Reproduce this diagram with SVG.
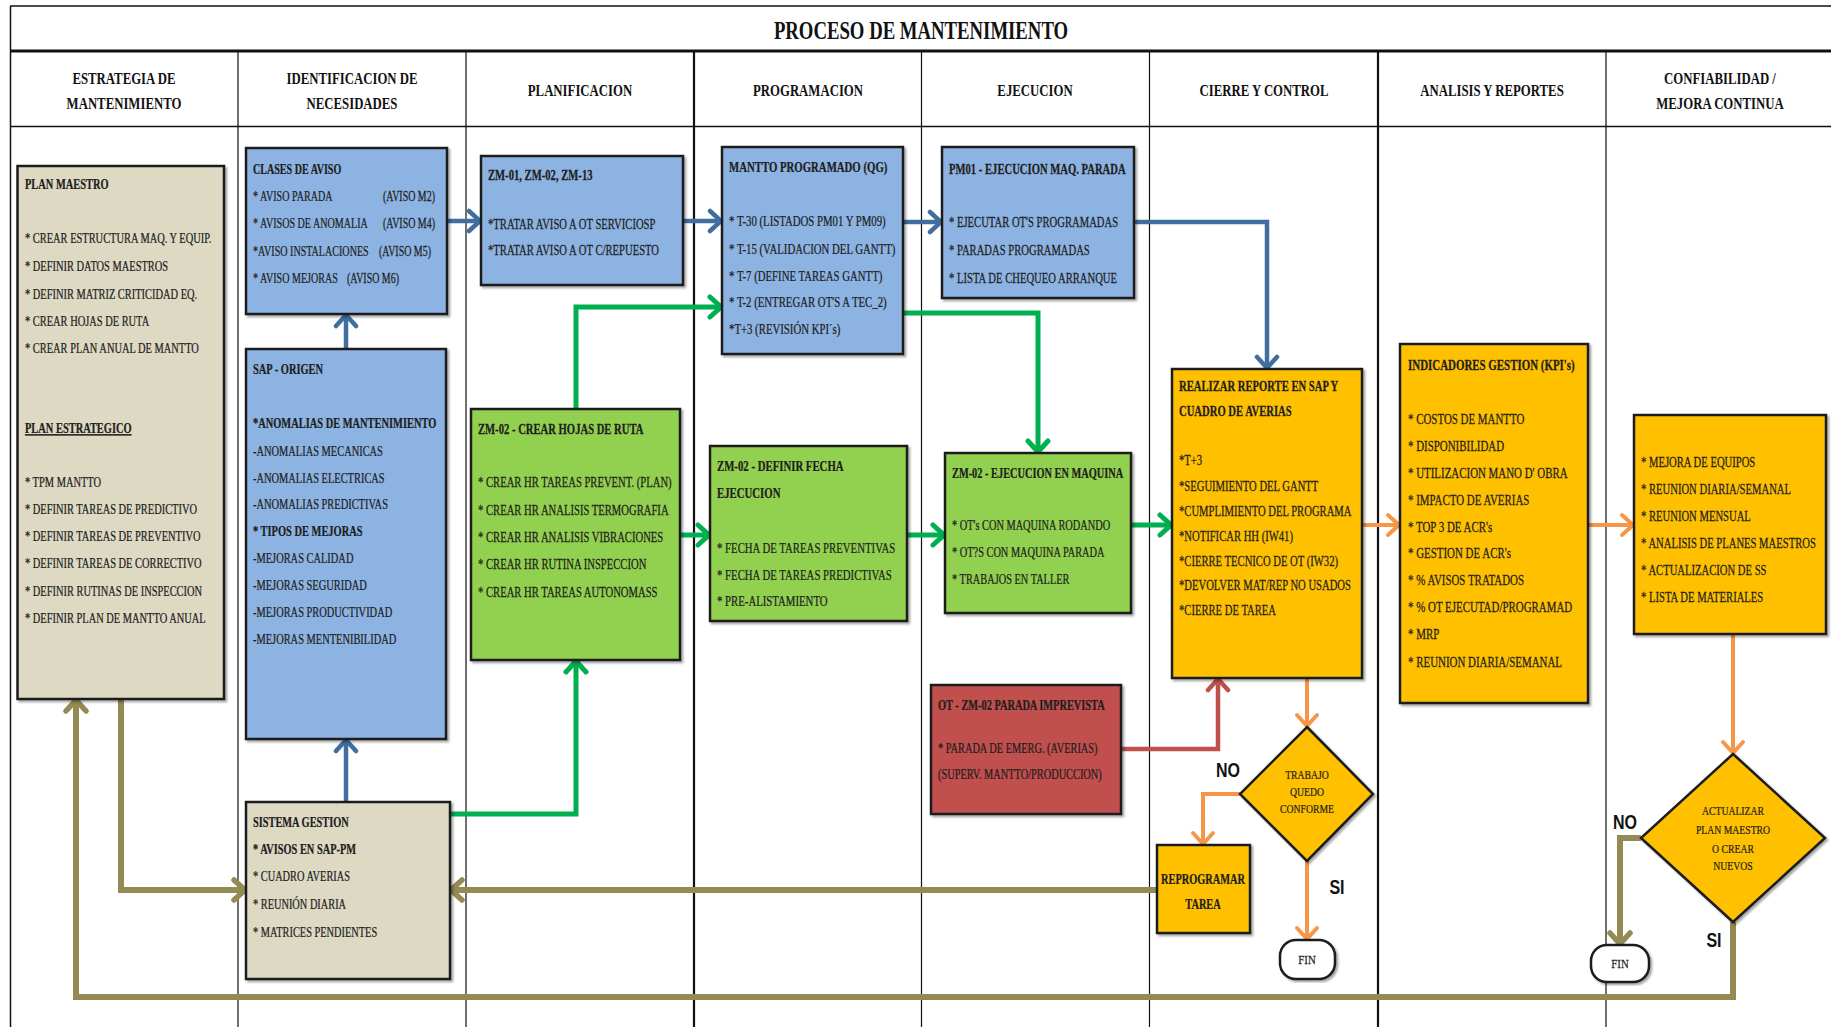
<svg xmlns="http://www.w3.org/2000/svg" width="1831" height="1027" viewBox="0 0 1831 1027">
<style>
.bg{fill:#fff}
.grid{stroke:#111;fill:none}
.box{stroke:#1c1c1c;stroke-width:2.5;filter:url(#sh)}
.tan{fill:#DDD9C3}
.blue{fill:#8DB3E2}
.green{fill:#92D050}
.orange{fill:#FFC000}
.red{fill:#C0504D}
text{font-family:"Liberation Serif","DejaVu Serif",serif;font-size:14px;fill:#1e1e1e;stroke:#1e1e1e;stroke-width:0.25}
.b{font-weight:bold}
.hd{font-size:16px;font-weight:bold;text-anchor:middle;fill:#111;stroke:none}
.ttl{font-size:25px;font-weight:bold;text-anchor:middle;fill:#111;stroke:none}
.dt{font-size:13.5px;text-anchor:middle}
.lbl{font-family:"Liberation Sans","DejaVu Sans",sans-serif;font-size:20px;font-weight:bold;text-anchor:middle;fill:#111;stroke:none}
.c{fill:none;stroke-linejoin:miter}
.cb{stroke:#3F6E9F;stroke-width:4.5}
.cg{stroke:#00B050;stroke-width:5}
.co{stroke:#F79646;stroke-width:4}
.cv{stroke:#948A54;stroke-width:6}
.cr{stroke:#C0504D;stroke-width:4.5}
</style>
<defs>
<filter id="sh" x="-5%" y="-5%" width="115%" height="115%">
<feDropShadow dx="2" dy="2" stdDeviation="1.2" flood-color="#000" flood-opacity="0.35"/>
</filter>
<marker id="ab" viewBox="0 0 26 26" refX="24" refY="13" markerWidth="26" markerHeight="26" markerUnits="userSpaceOnUse" orient="auto"><path d="M12,3 L23,13 L12,23" fill="none" stroke="#3F6E9F" stroke-width="4.5" stroke-linecap="round"/></marker>
<marker id="ag" viewBox="0 0 26 26" refX="24" refY="13" markerWidth="26" markerHeight="26" markerUnits="userSpaceOnUse" orient="auto"><path d="M12,3 L23,13 L12,23" fill="none" stroke="#00B050" stroke-width="5" stroke-linecap="round"/></marker>
<marker id="ao" viewBox="0 0 26 26" refX="24" refY="13" markerWidth="26" markerHeight="26" markerUnits="userSpaceOnUse" orient="auto"><path d="M12,3 L23,13 L12,23" fill="none" stroke="#F79646" stroke-width="4" stroke-linecap="round"/></marker>
<marker id="av" viewBox="0 0 26 26" refX="24" refY="13" markerWidth="26" markerHeight="26" markerUnits="userSpaceOnUse" orient="auto"><path d="M12,3 L23,13 L12,23" fill="none" stroke="#948A54" stroke-width="5.5" stroke-linecap="round"/></marker>
<marker id="ar" viewBox="0 0 26 26" refX="24" refY="13" markerWidth="26" markerHeight="26" markerUnits="userSpaceOnUse" orient="auto"><path d="M12,3 L23,13 L12,23" fill="none" stroke="#C0504D" stroke-width="4.5" stroke-linecap="round"/></marker>
</defs>
<rect class="bg" x="0" y="0" width="1831" height="1027"/>

<g id="grid">
<path class="grid" stroke-width="1.5" d="M10,6 H1831"/>
<path class="grid" stroke-width="1.5" d="M10.5,6 V1027"/>
<path class="grid" stroke-width="3" d="M10,51 H1831"/>
<path class="grid" stroke-width="1.3" d="M10,126.5 H1831"/>
<path class="grid" stroke-width="1.2" d="M238,51 V1027 M466,51 V1027 M921.5,51 V1027 M1149.5,51 V1027 M1606,51 V1027"/>
<path class="grid" stroke-width="2.2" d="M694,51 V1027 M1378,51 V1027"/>
<text class="ttl" transform="translate(921,39) scale(0.75,1)">PROCESO DE MANTENIMIENTO</text>
<g transform="translate(124,0) scale(0.8,1)"><text class="hd" y="84">ESTRATEGIA DE</text><text class="hd" y="109">MANTENIMIENTO</text></g>
<g transform="translate(352,0) scale(0.8,1)"><text class="hd" y="84">IDENTIFICACION DE</text><text class="hd" y="109">NECESIDADES</text></g>
<g transform="translate(580,0) scale(0.8,1)"><text class="hd" y="96">PLANIFICACION</text></g>
<g transform="translate(808,0) scale(0.8,1)"><text class="hd" y="96">PROGRAMACION</text></g>
<g transform="translate(1035,0) scale(0.8,1)"><text class="hd" y="96">EJECUCION</text></g>
<g transform="translate(1264,0) scale(0.8,1)"><text class="hd" y="96">CIERRE Y CONTROL</text></g>
<g transform="translate(1492,0) scale(0.8,1)"><text class="hd" y="96">ANALISIS Y REPORTES</text></g>
<g transform="translate(1720,0) scale(0.8,1)"><text class="hd" y="84">CONFIABILIDAD /</text><text class="hd" y="109">MEJORA CONTINUA</text></g>
</g>

<g id="connectors">
<path class="c cb" d="M447,221 H481" marker-end="url(#ab)"/>
<path class="c cb" d="M683,221 H722" marker-end="url(#ab)"/>
<path class="c cb" d="M903,222 H942" marker-end="url(#ab)"/>
<path class="c cb" d="M1134,222 H1267 V369" marker-end="url(#ab)"/>
<path class="c cb" d="M346,349 V314" marker-end="url(#ab)"/>
<path class="c cb" d="M346,802 V739" marker-end="url(#ab)"/>
<path class="c cg" d="M576,409 V307 H722" marker-end="url(#ag)"/>
<path class="c cg" d="M903,313 H1038 V453" marker-end="url(#ag)"/>
<path class="c cg" d="M680,535 H710" marker-end="url(#ag)"/>
<path class="c cg" d="M907,535 H945" marker-end="url(#ag)"/>
<path class="c cg" d="M1131,525 H1172" marker-end="url(#ag)"/>
<path class="c cg" d="M450,814 H576 V660" marker-end="url(#ag)"/>
<path class="c cr" d="M1121,749 H1218 V678" marker-end="url(#ar)"/>
<path class="c co" d="M1362,525 H1400" marker-end="url(#ao)"/>
<path class="c co" d="M1588,525 H1634" marker-end="url(#ao)"/>
<path class="c co" d="M1307,678 V727" marker-end="url(#ao)"/>
<path class="c co" d="M1240,794 H1203 V845" marker-end="url(#ao)"/>
<path class="c co" d="M1307,861 V940" marker-end="url(#ao)"/>
<path class="c co" d="M1733,634 V754" marker-end="url(#ao)"/>
<path class="c cv" d="M1641,838 H1620 V945" marker-end="url(#av)"/>
<path class="c cv" d="M1733,922 V997 H76 V699" marker-end="url(#av)"/>
<path class="c cv" d="M121,699 V890 H246" marker-end="url(#av)"/>
<path class="c cv" d="M1157,890 H450" marker-end="url(#av)"/>
</g>

<g id="plan-maestro">
<rect class="box tan" x="17.5" y="166" width="206.5" height="533"/>
<g transform="translate(25,0) scale(0.745,1)">
<text class="b" y="189">PLAN MAESTRO</text>
<text y="243">* CREAR ESTRUCTURA MAQ. Y EQUIP.</text>
<text y="271">* DEFINIR DATOS MAESTROS</text>
<text y="299">* DEFINIR  MATRIZ  CRITICIDAD EQ.</text>
<text y="326">* CREAR HOJAS DE RUTA</text>
<text y="353">* CREAR PLAN ANUAL DE MANTTO</text>
<text class="b" y="433" text-decoration="underline">PLAN ESTRATEGICO</text>
<text y="487">* TPM  MANTTO</text>
<text y="514">* DEFINIR TAREAS DE PREDICTIVO</text>
<text y="541">* DEFINIR TAREAS DE PREVENTIVO</text>
<text y="568">* DEFINIR TAREAS DE CORRECTIVO</text>
<text y="596">* DEFINIR RUTINAS DE INSPECCION</text>
<text y="623">* DEFINIR PLAN DE  MANTTO ANUAL</text>
</g>
</g>

<g id="clases-aviso">
<rect class="box blue" x="246" y="148" width="201" height="166"/>
<g transform="translate(253,0) scale(0.72,1)">
<text class="b" y="174">CLASES DE AVISO</text>
<text y="201">* AVISO PARADA</text>
<text y="228">* AVISOS DE  ANOMALIA</text>
<text y="256">*AVISO INSTALACIONES</text>
<text y="283">* AVISO MEJORAS</text>
</g>
<g transform="translate(383,0) scale(0.71,1)"><text y="201">(AVISO M2)</text><text y="228">(AVISO M4)</text></g>
<g transform="translate(379,0) scale(0.71,1)"><text y="256">(AVISO M5)</text></g>
<g transform="translate(347,0) scale(0.71,1)"><text y="283">(AVISO M6)</text></g>
</g>

<g id="sap-origen">
<rect class="box blue" x="246" y="349" width="200" height="390"/>
<g transform="translate(253,0) scale(0.745,1)">
<text class="b" y="374">SAP - ORIGEN</text>
<text class="b" y="428">*ANOMALIAS DE MANTENIMIENTO</text>
<text y="456">-ANOMALIAS MECANICAS</text>
<text y="483">-ANOMALIAS ELECTRICAS</text>
<text y="509">-ANOMALIAS PREDICTIVAS</text>
<text class="b" y="536">* TIPOS DE MEJORAS</text>
<text y="563">-MEJORAS CALIDAD</text>
<text y="590">-MEJORAS SEGURIDAD</text>
<text y="617">-MEJORAS PRODUCTIVIDAD</text>
<text y="644">-MEJORAS MENTENIBILIDAD</text>
</g>
</g>

<g id="sistema-gestion">
<rect class="box tan" x="246" y="802" width="204" height="177"/>
<g transform="translate(253,0) scale(0.74,1)">
<text class="b" y="827">SISTEMA  GESTION</text>
<text class="b" y="854">* AVISOS EN SAP-PM</text>
<text y="881">* CUADRO AVERIAS</text>
<text y="909">* REUNIÓN DIARIA</text>
<text y="937">* MATRICES PENDIENTES</text>
</g>
</g>

<g id="zm01">
<rect class="box blue" x="481" y="156" width="202" height="129"/>
<g transform="translate(488,0) scale(0.76,1)">
<text class="b" y="180">ZM-01, ZM-02, ZM-13</text>
<text y="229">*TRATAR AVISO A OT SERVICIOSP</text>
<text y="255">*TRATAR AVISO A OT C/REPUESTO</text>
</g>
</g>

<g id="crear-hojas">
<rect class="box green" x="471" y="409" width="209" height="251"/>
<g transform="translate(478,0) scale(0.76,1)">
<text class="b" y="434">ZM-02 - CREAR HOJAS DE RUTA</text>
<text y="487">* CREAR HR TAREAS PREVENT. (PLAN)</text>
<text y="515">* CREAR HR ANALISIS TERMOGRAFIA</text>
<text y="542">* CREAR HR ANALISIS  VIBRACIONES</text>
<text y="569">* CREAR HR RUTINA  INSPECCION</text>
<text y="597">* CREAR HR TAREAS AUTONOMASS</text>
</g>
</g>

<g id="mantto-programado">
<rect class="box blue" x="722" y="147" width="181" height="207"/>
<g transform="translate(729,0) scale(0.77,1)">
<text class="b" y="172">MANTTO PROGRAMADO (QG)</text>
<text y="226">* T-30 (LISTADOS PM01 Y PM09)</text>
<text y="254">* T-15 (VALIDACION DEL GANTT)</text>
<text y="281">* T-7  (DEFINE TAREAS GANTT)</text>
<text y="307">* T-2  (ENTREGAR OT'S A TEC_2)</text>
<text y="334">*T+3 (REVISIÓN KPI´s)</text>
</g>
</g>

<g id="definir-fecha">
<rect class="box green" x="710" y="446" width="197" height="175"/>
<g transform="translate(717,0) scale(0.77,1)">
<text class="b" y="471">ZM-02 - DEFINIR FECHA</text>
<text class="b" y="498">EJECUCION</text>
<text y="553">* FECHA DE TAREAS PREVENTIVAS</text>
<text y="580">* FECHA DE TAREAS PREDICTIVAS</text>
<text y="606">* PRE-ALISTAMIENTO</text>
</g>
</g>

<g id="pm01">
<rect class="box blue" x="942" y="147" width="192" height="151"/>
<g transform="translate(949,0) scale(0.76,1)">
<text class="b" y="174">PM01 - EJECUCION MAQ. PARADA</text>
<text y="227">* EJECUTAR OT'S PROGRAMADAS</text>
<text y="255">* PARADAS PROGRAMADAS</text>
<text y="283">* LISTA DE CHEQUEO  ARRANQUE</text>
</g>
</g>

<g id="ejecucion-maquina">
<rect class="box green" x="945" y="453" width="186" height="160"/>
<g transform="translate(952,0) scale(0.74,1)">
<text class="b" y="478">ZM-02 - EJECUCION EN  MAQUINA</text>
<text y="530">* OT's CON MAQUINA RODANDO</text>
<text y="557">* OT?S CON MAQUINA  PARADA</text>
<text y="584">* TRABAJOS EN TALLER</text>
</g>
</g>

<g id="parada-imprevista">
<rect class="box red" x="931" y="685" width="190" height="129"/>
<g transform="translate(938,0) scale(0.74,1)">
<text class="b" y="710">OT - ZM-02  PARADA IMPREVISTA</text>
<text y="753">* PARADA DE EMERG. (AVERIAS)</text>
<text y="779">(SUPERV. MANTTO/PRODUCCION)</text>
</g>
</g>

<g id="realizar-reporte">
<rect class="box orange" x="1172" y="369" width="190" height="309"/>
<g transform="translate(1179,0) scale(0.76,1)">
<text class="b" y="391">REALIZAR REPORTE EN SAP Y</text>
<text class="b" y="416">CUADRO DE AVERIAS</text>
<text y="465">*T+3</text>
<text y="491">*SEGUIMIENTO DEL GANTT</text>
<text y="516">*CUMPLIMIENTO DEL PROGRAMA</text>
<text y="541">*NOTIFICAR HH (IW41)</text>
<text y="566">*CIERRE TECNICO DE OT  (IW32)</text>
<text y="590">*DEVOLVER MAT/REP NO USADOS</text>
<text y="615">*CIERRE DE TAREA</text>
</g>
</g>

<g id="trabajo-conforme">
<polygon class="box orange" points="1307,727 1373,794 1307,861 1240,794"/>
<g transform="translate(1307,0) scale(0.72,1)">
<text class="dt" y="779">TRABAJO</text>
<text class="dt" y="796">QUEDO</text>
<text class="dt" y="813">CONFORME</text>
</g>
</g>

<g id="reprogramar">
<rect class="box orange" x="1157" y="845" width="93" height="88"/>
<g transform="translate(1203,0) scale(0.74,1)">
<text class="b" text-anchor="middle" y="884">REPROGRAMAR</text>
<text class="b" text-anchor="middle" y="909">TAREA</text>
</g>
</g>

<g id="fin1">
<rect x="1280" y="940" width="55" height="39" rx="16" ry="16" fill="#fff" stroke="#1c1c1c" stroke-width="2.5" filter="url(#sh)"/>
<text class="dt" transform="translate(1307,964) scale(0.8,1)">FIN</text>
</g>

<g id="kpis">
<rect class="box orange" x="1400" y="344" width="188" height="359"/>
<g transform="translate(1408,0) scale(0.78,1)">
<text class="b" y="370">INDICADORES GESTION (KPI's)</text>
<text y="424">* COSTOS DE MANTTO</text>
<text y="451">* DISPONIBILIDAD</text>
<text y="478">* UTILIZACION MANO D' OBRA</text>
<text y="505">* IMPACTO DE AVERIAS</text>
<text y="532">* TOP 3 DE ACR's</text>
<text y="558">* GESTION DE ACR's</text>
<text y="585">* % AVISOS TRATADOS</text>
<text y="612">* % OT EJECUTAD/PROGRAMAD</text>
<text y="639">* MRP</text>
<text y="667">* REUNION DIARIA/SEMANAL</text>
</g>
</g>

<g id="mejora-continua">
<rect class="box orange" x="1634" y="415" width="192" height="219"/>
<g transform="translate(1641,0) scale(0.76,1)">
<text y="467">* MEJORA DE EQUIPOS</text>
<text y="494">* REUNION DIARIA/SEMANAL</text>
<text y="521">* REUNION MENSUAL</text>
<text y="548">* ANALISIS DE PLANES MAESTROS</text>
<text y="575">* ACTUALIZACION DE SS</text>
<text y="602">* LISTA DE MATERIALES</text>
</g>
</g>

<g id="actualizar-plan">
<polygon class="box orange" points="1733,754 1825,838 1733,922 1641,838"/>
<g transform="translate(1733,0) scale(0.72,1)">
<text class="dt" y="815">ACTUALIZAR</text>
<text class="dt" y="834">PLAN MAESTRO</text>
<text class="dt" y="853">O CREAR</text>
<text class="dt" y="870">NUEVOS</text>
</g>
</g>

<g id="fin2">
<rect x="1591" y="945" width="58" height="37" rx="16" ry="16" fill="#fff" stroke="#1c1c1c" stroke-width="2.5" filter="url(#sh)"/>
<text class="dt" transform="translate(1620,968) scale(0.8,1)">FIN</text>
</g>

<g id="labels">
<text class="lbl" transform="translate(1228,777) scale(0.8,1)">NO</text>
<text class="lbl" transform="translate(1337,894) scale(0.8,1)">SI</text>
<text class="lbl" transform="translate(1625,829) scale(0.8,1)">NO</text>
<text class="lbl" transform="translate(1714,947) scale(0.8,1)">SI</text>
</g>
</svg>
